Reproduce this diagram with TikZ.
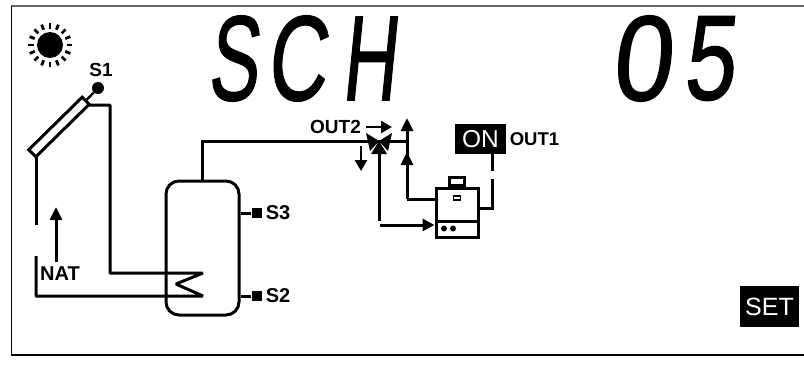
\documentclass[tikz,border=0pt]{standalone}
\usepackage{fontspec}
\setmainfont{Liberation Sans}
\newfontfamily\readoutfont[FakeBold=1.2]{Liberation Sans}
\usepackage[x11names, svgnames, rgb]{xcolor}
\usetikzlibrary{positioning,arrows.meta}
\definecolor{framegray}{gray}{0.4}
\tikzstyle{pipe}=[line width=3pt]
\tikzstyle{flow}=[line width=3pt,-{Triangle[length=13pt,width=12pt]}]
\tikzstyle{smallflow}=[line width=2.6pt,-{Triangle[length=11pt,width=12pt]}]
\tikzstyle{label}=[font=\bfseries\fontsize{19}{19}\selectfont,inner sep=0pt]
\tikzstyle{biglabel}=[font=\bfseries\fontsize{20}{20}\selectfont,inner sep=0pt]
\tikzstyle{probe}=[fill=black,minimum size=10pt,inner sep=0pt]
\tikzstyle{badge}=[fill=black,text=white,inner sep=0pt]
\tikzstyle{readout}=[font=\readoutfont\fontsize{121}{121}\selectfont,inner sep=0pt,xslant=0.1,transform shape]
\begin{document}
\begin{tikzpicture}[x=1pt,y=-1pt]
		\useasboundingbox (0,0) rectangle (804,365);

		% frame
		\draw[line width=2.4pt,color=framegray] (11,6) -- (804,6);
		\draw[line width=1.2pt] (11.5,6) -- (11.5,355) -- (804,355);

		% readout
		\node[readout,xscale=0.62] (digitS) at (236.5,58.5) {S};
		\node[readout,xscale=0.68] (digitC) at (300,58.5) {C};
		\node[readout,xscale=0.62] (digitH) at (372.5,58.5) {H};
		\node[readout,xscale=0.89] (digitZero) at (645,58.5) {0};
		\node[readout,xscale=0.76] (digitFive) at (712.5,58.5) {5};

		% sun
		\node[circle,fill=black,minimum size=26pt,inner sep=0pt] (sun) at (50,45) {};
		\foreach \a in {0,22.5,...,337.5}
			\draw[line width=2.8pt] ([shift={(\a:16.5)}]sun.center) -- ([shift={(\a:22)}]sun.center);

		% collector
		\node[draw,line width=3pt,fill=white,rotate=44.5,minimum width=75pt,minimum height=10pt,inner sep=0pt] (panel) at (59,127) {};
		\node[circle,fill=black,minimum size=12pt,inner sep=0pt] (bulb) at (98,88) {};
		\node[label] (labelSone) at (101,70) {S1};
		\draw[line width=2.4pt] (panel.east) -- (bulb);
		\coordinate (panelout) at (88,105);
		\coordinate (panelin) at (36,156);
		\coordinate (gaptop) at (36,225);
		\coordinate (gapbottom) at (36,256);

		% tank
		\node[draw,line width=3pt,rounded corners=13pt,minimum width=73pt,minimum height=134pt,inner sep=0pt] (tank) at (202.5,248) {};
		\coordinate (coilup) at (203,273);
		\coordinate (coiltip) at (176,284);
		\coordinate (coildown) at (203,296);
		\draw[pipe,line join=bevel] (panelout) -- (110,105) -- (110,273) -- (coilup) -- (coiltip) -- (coildown) -- (36,296) -- (gapbottom);
		\draw[pipe] (panelin) -- (gaptop);

		% NAT
		\node[biglabel] (nat) at (60,274) {NAT};
		\coordinate (natfoot) at (56,262);
		\coordinate (nathead) at (56,207);
		\draw[flow] (natfoot) -- (nathead);

		% probes
		\node[probe] (probeSthree) at (256.5,213) {};
		\node[probe] (probeStwo) at (256.5,296) {};
		\node[biglabel,right=4pt of probeSthree] (labelSthree) {S3};
		\node[biglabel,right=4pt of probeStwo] (labelStwo) {S2};
		\draw[pipe] (241,213) -- (probeSthree);
		\draw[pipe] (241,296) -- (probeStwo);

		% boiler
		\node[draw,line width=3pt,minimum width=42pt,minimum height=49pt,inner sep=0pt] (boiler) at (457,212.5) {};
		\draw[line width=3pt] (boiler.west |- 0,221.5) -- (boiler.east |- 0,221.5);
		\node[draw,line width=2.4pt,minimum width=15pt,minimum height=8pt,inner sep=0pt,above=0pt of boiler] (boilercap) {};
		\node[draw,line width=1.8pt,minimum width=7pt,minimum height=4pt,inner sep=0pt] (boilerlamp) at (457,198) {};
		\node[circle,fill=black,minimum size=6pt,inner sep=0pt] (dotleft) at (444,228.5) {};
		\node[circle,fill=black,minimum size=6pt,inner sep=0pt] (dotright) at (453,228.5) {};

		% valve
		\coordinate (valve) at (379,141);
		\fill (valve) -- (366,133) -- (370,151) -- cycle;
		\fill (valve) -- (392,133) -- (388,151) -- cycle;
		\fill (valve) -- (371,154) -- (387,154) -- cycle;
		\draw[pipe] (tank.north -| 202,0) -- (202,141) -- (valve);
		\draw[pipe] (valve) -- (407,141);

		% circuit
		\coordinate (riser) at (407,199);
		\draw[flow] (riser) -- (407,118);
		\draw[flow] (riser) -- (407,152);
		\draw[pipe] (boiler.west |- riser) -- (riser);
		\draw[pipe] (379,154) -- (379,221);
		\draw[pipe,-{Triangle[length=12pt,width=12pt]}] (380,225) -- (boiler.west |- 0,225);

		% OUT2
		\node[label] (labelOuttwo) at (335.5,127) {OUT2};
		\coordinate (outtwoleft) at (366,127);
		\coordinate (outtworight) at (392,127);
		\draw[smallflow] (outtwoleft) -- (outtworight);
		\coordinate (downtop) at (361,146);
		\coordinate (downtip) at (361,171);
		\draw[smallflow] (downtop) -- (downtip);

		% ON
		\node[badge,minimum width=51pt,minimum height=30pt,font=\fontsize{24.5}{24.5}\selectfont] (onbadge) at (480.5,139) {ON};
		\node[label,font=\bfseries\fontsize{18.5}{18.5}\selectfont] (labelOutone) at (534.5,139) {OUT1};
		\coordinate (wirebreak) at (492,171);
		\coordinate (wiredown) at (492,179);
		\draw[pipe] (onbadge.south -| wirebreak) -- (wirebreak);
		\draw[pipe] (wiredown) -- (492,208) -- (480,208);

		% SET
		\node[badge,minimum width=59pt,minimum height=41pt,font=\fontsize{25}{25}\selectfont] (setbadge) at (769.5,306.5) {SET};
\end{tikzpicture}
\end{document}
